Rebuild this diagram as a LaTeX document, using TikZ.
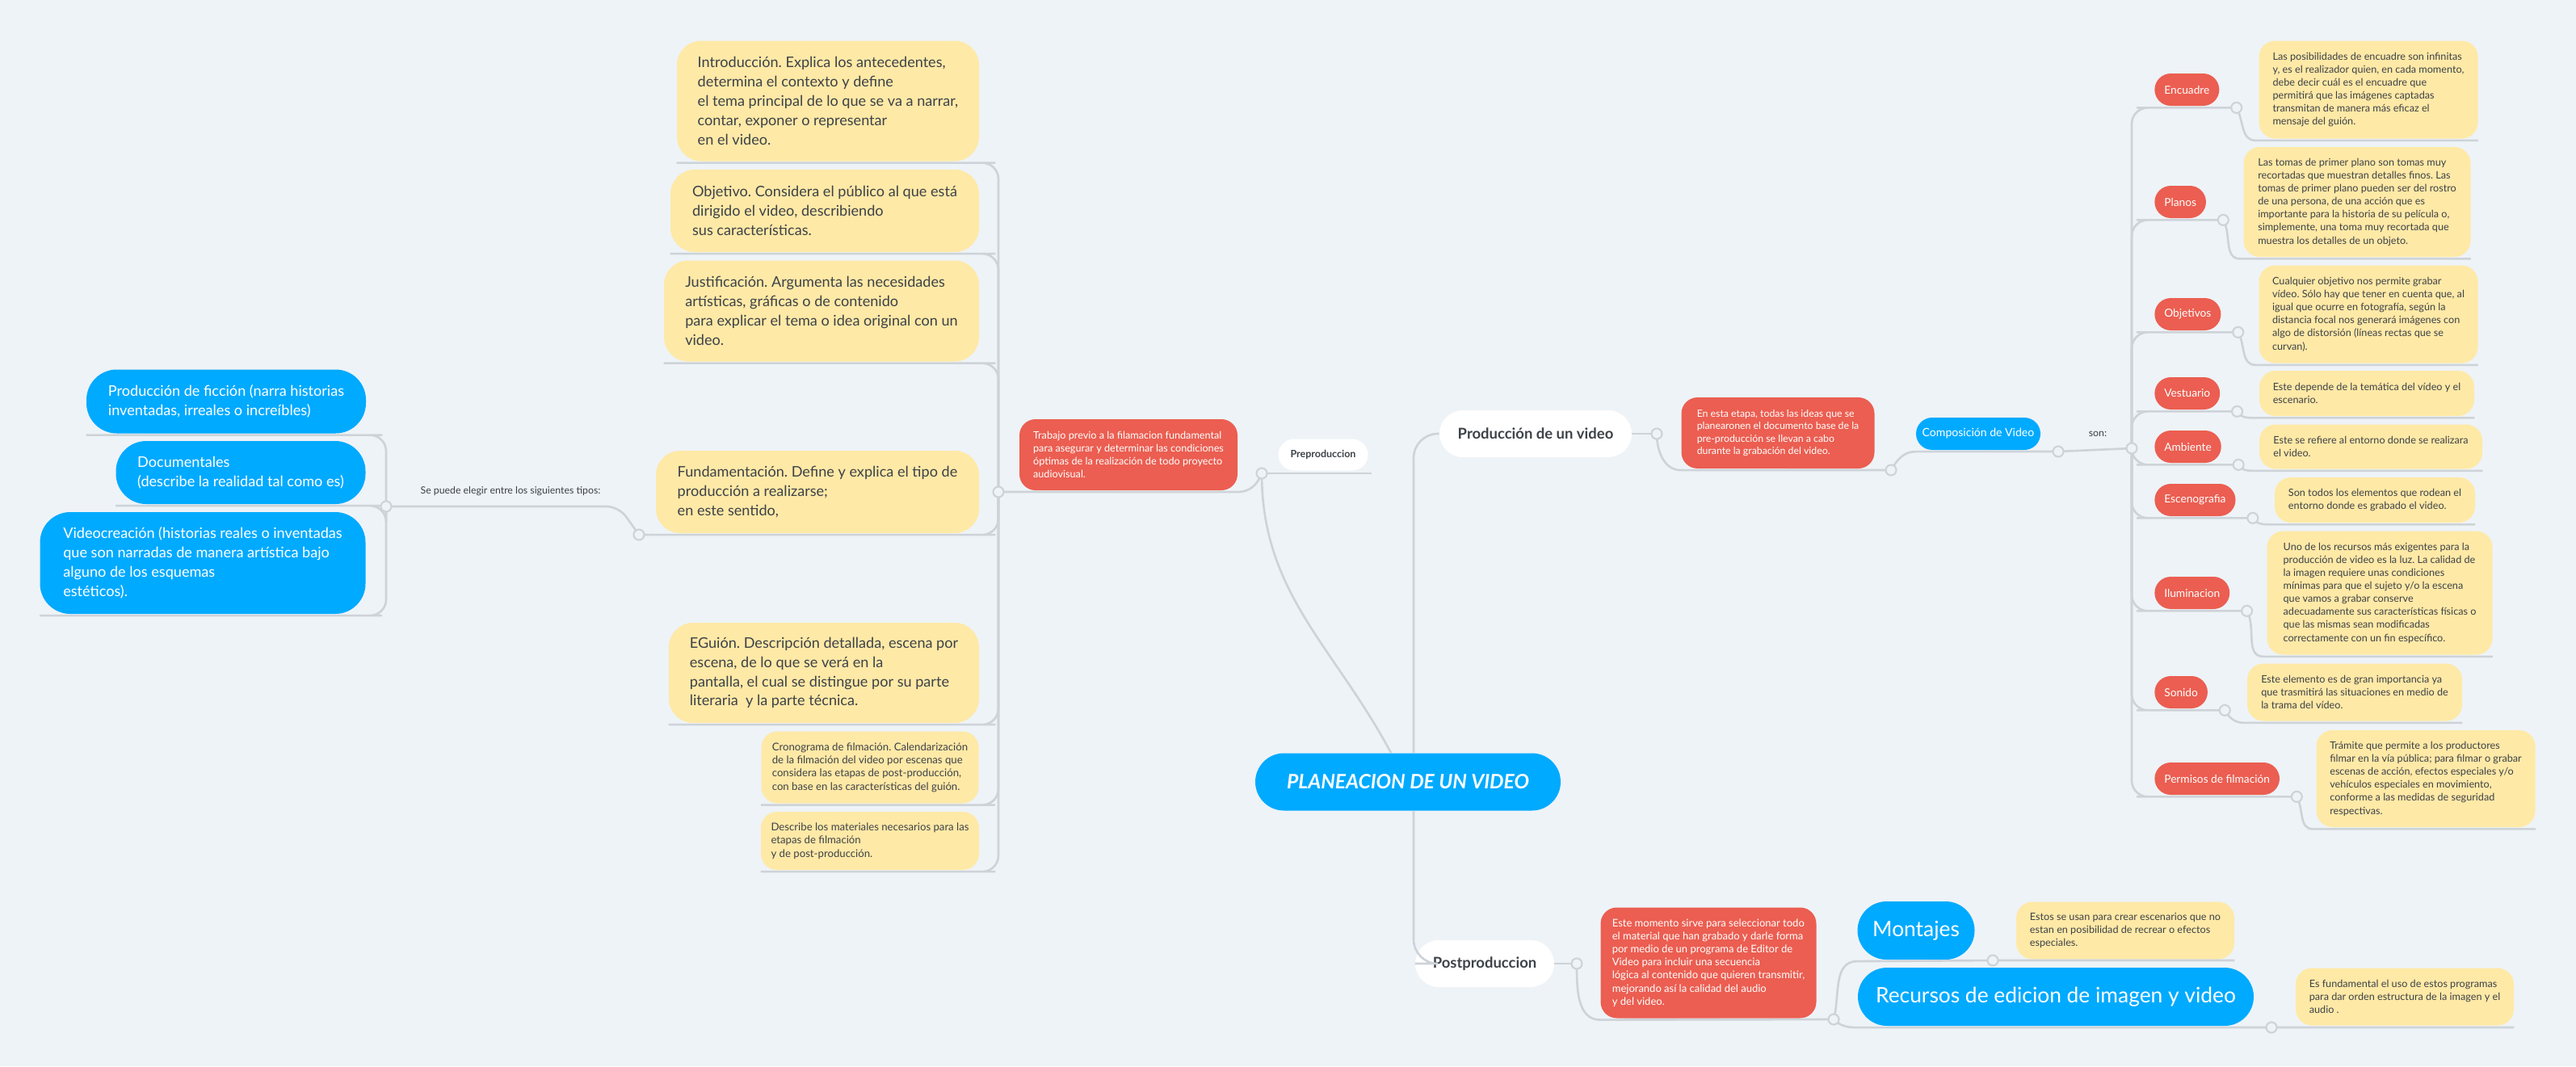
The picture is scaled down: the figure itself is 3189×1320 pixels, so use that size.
\documentclass[tikz,border=0pt]{standalone}
\usepackage{fontspec}
\setmainfont{Lato}
\usetikzlibrary{calc, positioning}
\frenchspacing

\definecolor{bgc}{HTML}{EEF3F7}
\definecolor{yelc}{HTML}{FFE9A6}
\definecolor{redc}{HTML}{EB5E51}
\definecolor{bluec}{HTML}{00AAFF}
\definecolor{linkc}{HTML}{CDD3D8}
\definecolor{txtc}{HTML}{3D4249}

\begin{document}
\begin{tikzpicture}[x=0.02cm, y=0.02cm]

    \tikzstyle{yel} = [rectangle, fill=yelc, text=txtc, rounded corners=0.6cm, align=left, inner sep=0pt, font=\fontsize{10.3}{13.6}\selectfont]
    \tikzstyle{bluebox} = [yel, fill=bluec, text=white, rounded corners=0.75cm]
    \tikzstyle{note} = [rectangle, fill=yelc, text=txtc, rounded corners=0.4cm, align=left, inner sep=0pt, font=\fontsize{7.2}{9.2}\selectfont]
    \tikzstyle{rednote} = [note, fill=redc, text=white]
    \tikzstyle{tag} = [rectangle, fill=redc, text=white, rounded corners=0.4cm, inner xsep=0.24cm, inner ysep=0pt, minimum height=0.8cm, anchor=west, font=\fontsize{7.8}{9}\selectfont]
    \tikzstyle{pill} = [rectangle, fill=white, text=txtc, inner sep=0pt]
    \tikzstyle{bluepill} = [rectangle, fill=bluec, text=white, inner sep=0pt]
    \tikzstyle{lbl} = [text=txtc, inner sep=0pt, font=\fontsize{7}{8}\selectfont]
    \tikzstyle{line} = [draw=linkc, line width=1.5pt]
    \tikzstyle{knot} = [circle, draw=linkc, fill=bgc, line width=1.2pt, minimum size=0.26cm, inner sep=0pt]
    \tikzset{sz/.style 2 args={minimum width=#1*0.02cm, minimum height=#2*0.02cm}}

    \fill [bgc] (0,0) rectangle (3189,-1320);
    \useasboundingbox (0,0) rectangle (3189,-1320);

    % centre
    \node [bluepill, sz={378}{71}, rounded corners=0.71cm, font=\fontsize{14}{16}\selectfont\bfseries\itshape] (central) at (1743,-968) {PLANEACION DE UN VIDEO};

    % preproduccion
    \node [pill, sz={111}{39}, rounded corners=0.39cm, font=\fontsize{7.1}{8}\selectfont\bfseries] (p_pre) at (1638,-563) {Preproduccion};
    \node [rednote, sz={270}{88}] (r_pre) at (1397,-563) {Trabajo previo a la filamacion fundamental\\para asegurar y determinar las condiciones\\óptimas de la realización de todo proyecto\\audiovisual.};

    \node [yel, sz={374}{149}] (y_intro) at (1025,-125) {Introducción. Explica los antecedentes,\\determina el contexto y define\\el tema principal de lo que se va a narrar,\\contar, exponer o representar\\en el video.};
    \node [yel, sz={382}{102}] (y_objetivo) at (1021,-261) {Objetivo. Considera el público al que está\\dirigido el video, describiendo\\sus características.};
    \node [yel, sz={390}{125}] (y_justif) at (1017,-385) {Justificación. Argumenta las necesidades\\artísticas, gráficas o de contenido\\para explicar el tema o idea original con un\\video.};
    \node [yel, sz={400}{102}] (y_fundam) at (1012,-609) {Fundamentación. Define y explica el tipo de\\producción a realizarse;\\en este sentido,};
    \node [yel, sz={384}{124}] (y_guion) at (1020,-833) {EGuión. Descripción detallada, escena por\\escena, de lo que se verá en la\\pantalla, el cual se distingue por su parte\\literaria \ y la parte técnica.};
    \node [note, sz={269}{89}, font=\fontsize{7.5}{9.3}\selectfont] (y_crono) at (1077,-950) {Cronograma de filmación. Calendarización\\de la filmación del video por escenas que\\considera las etapas de post-producción,\\con base en las características del guión.};
    \node [note, sz={270}{72}, font=\fontsize{7.5}{9.3}\selectfont] (y_mater) at (1077,-1041) {Describe los materiales necesarios para las\\etapas de filmación\\y de post-producción.};

    \node [lbl] (tipos) at (632,-608) {Se puede elegir entre los siguientes tipos:};
    \node [bluebox, sz={346}{79}] (b_ficcion) at (280,-497) {Producción de ficción (narra historias\\inventadas, irreales o increíbles)};
    \node [bluebox, sz={309}{78}] (b_docu) at (298,-585) {Documentales\\(describe la realidad tal como es)};
    \node [bluebox, sz={403}{126}] (b_video) at (251,-697) {Videocreación (historias reales o inventadas\\que son narradas de manera artística bajo\\alguno de los esquemas\\estéticos).};

    % produccion
    \node [pill, sz={238}{58}, rounded corners=0.58cm, font=\fontsize{10.5}{12}\selectfont\bfseries] (p_prod) at (1901,-537) {Producción de un video};
    \node [rednote, sz={239}{88}, font=\fontsize{7}{8.7}\selectfont] (r_prod) at (2201,-536) {En esta etapa, todas las ideas que se\\planearonen el documento base de la\\pre-producción se llevan a cabo\\durante la grabación del video.};
    \node [bluepill, sz={154}{40}, rounded corners=0.4cm, font=\fontsize{8}{9}\selectfont] (p_compo) at (2449,-537) {Composición de Video};
    \node [lbl] (son) at (2597,-537) {son:};

    \node [tag] (t_encuadre) at (2667,-111) {Encuadre};
    \node [tag] (t_planos) at (2667,-250) {Planos};
    \node [tag] (t_objetivos) at (2667,-389) {Objetivos};
    \node [tag] (t_vestuario) at (2667,-487) {Vestuario};
    \node [tag] (t_ambiente) at (2667,-553) {Ambiente};
    \node [tag] (t_esceno) at (2667,-619) {Escenografia};
    \node [tag] (t_ilum) at (2667,-734) {Iluminacion};
    \node [tag] (t_sonido) at (2667,-857) {Sonido};
    \node [tag] (t_permisos) at (2667,-964) {Permisos de filmación};

    \node [note, sz={271}{121}] (n_encuadre) at (2932,-111) {Las posibilidades de encuadre son infinitas\\y, es el realizador quien, en cada momento,\\debe decir cuál es el encuadre que\\permitirá que las imágenes captadas\\transmitan de manera más eficaz el\\mensaje del guión.};
    \node [note, sz={281}{136}] (n_planos) at (2918,-250) {Las tomas de primer plano son tomas muy\\recortadas que muestran detalles finos. Las\\tomas de primer plano pueden ser del rostro\\de una persona, de una acción que es\\importante para la historia de su película o,\\simplemente, una toma muy recortada que\\muestra los detalles de un objeto.};
    \node [note, sz={271}{121}] (n_objetivos) at (2932,-389) {Cualquier objetivo nos permite grabar\\vídeo. Sólo hay que tener en cuenta que, al\\igual que ocurre en fotografía, según la\\distancia focal nos generará imágenes con\\algo de distorsión (líneas rectas que se\\curvan).};
    \node [note, sz={266}{56}] (n_vestuario) at (2930,-487) {Este depende de la temática del vídeo y el\\escenario.};
    \node [note, sz={276}{55}] (n_ambiente) at (2935,-553) {Este se refiere al entorno donde se realizara\\el video.};
    \node [note, sz={248}{56}] (n_esceno) at (2940,-619) {Son todos los elementos que rodean el\\entorno donde es grabado el video.};
    \node [note, sz={279}{153}] (n_ilum) at (2946,-734) {Uno de los recursos más exigentes para la\\producción de video es la luz. La calidad de\\la imagen requiere unas condiciones\\mínimas para que el sujeto y/o la escena\\que vamos a grabar conserve\\adecuadamente sus características físicas o\\que las mismas sean modificadas\\correctamente con un fin específico.};
    \node [note, sz={266}{71}] (n_sonido) at (2915,-857) {Este elemento es de gran importancia ya\\que trasmitirá las situaciones en medio de\\la trama del vídeo.};
    \node [note, sz={271}{120}] (n_permisos) at (3003,-964) {Trámite que permite a los productores\\filmar en la vía pública; para filmar o grabar\\escenas de acción, efectos especiales y/o\\vehículos especiales en movimiento,\\conforme a las medidas de seguridad\\respectivas.};

    % postproduccion
    \node [pill, sz={172}{58}, rounded corners=0.58cm, font=\fontsize{10.5}{12}\selectfont\bfseries] (p_post) at (1838,-1193) {Postproduccion};
    \node [rednote, sz={267}{137}, font=\fontsize{7.4}{9.2}\selectfont] (r_post) at (2115,-1192) {Este momento sirve para seleccionar todo\\el material que han grabado y darle forma\\por medio de un programa de Editor de\\Video para incluir una secuencia\\lógica al contenido que quieren transmitir,\\mejorando así la calidad del audio\\y del video.};
    \node [bluepill, sz={145}{72}, rounded corners=0.72cm, font=\fontsize{15}{17}\selectfont] (p_montajes) at (2372,-1152) {Montajes};
    \node [bluepill, sz={490}{72}, rounded corners=0.72cm, font=\fontsize{15}{17}\selectfont] (p_recursos) at (2545,-1234) {Recursos de edicion de imagen y video};
    \node [note, sz={270}{71}] (n_montajes) at (2631,-1152) {Estos se usan para crear escenarios que no\\estan en posibilidad de recrear o efectos\\especiales.};
    \node [note, sz={270}{71}] (n_recursos) at (2977,-1234) {Es fundamental el uso de estos programas\\para dar orden estructura de la imagen y el\\audio .};

    % junctions
    \coordinate (k_pre) at (1562,-586);
    \coordinate (k_rpre) at (1236,-609);
    \coordinate (k_fund) at (791,-662);
    \coordinate (k_tipos) at (478,-627);
    \coordinate (k_prod) at (2051,-537);
    \coordinate (k_rprod) at (2341,-582);
    \coordinate (k_compo) at (2548,-559);
    \coordinate (k_son) at (2639,-555);
    \coordinate (k_post) at (1952,-1193);
    \coordinate (k_rpost) at (2270,-1262);
    \coordinate (k_mont) at (2467,-1189);
    \coordinate (k_recur) at (2812,-1272);

    % connectors, left side
    \path [line] ($(central.north)+(-21,0)$) to[out=118,in=-90] (k_pre);
    \path [line] (k_pre) -- ($(k_pre -| p_pre.east)+(4,0)$);
    \path [line] (k_pre) to[out=-110,in=0] ([yshift=-1pt]r_pre.south east) -- (k_rpre);
    \foreach \n in {y_intro, y_objetivo, y_justif, y_fundam, y_guion, y_crono, y_mater}
        \path [line, rounded corners=0.4cm] (k_rpre) |- ([yshift=-1pt]\n.south east) -- ([yshift=-1pt]\n.south west);
    \path [line] ([yshift=-1pt]y_fundam.south west) -- (k_fund);
    \path [line, rounded corners=0.3cm] (k_fund) -- ++(-25,35) -- (k_tipos);
    \foreach \n in {b_ficcion, b_docu, b_video}
        \path [line, rounded corners=0.4cm] (k_tipos) |- ([yshift=-1pt]\n.south east) -- ([yshift=-1pt]\n.south west);

    % connectors, right side
    \path [line, rounded corners=0.6cm] ($(central.north)+(7,0)$) |- (p_prod.west);
    \path [line] (p_prod.east) -- (k_prod);
    \path [line] (k_prod) to[out=-90,in=180] ([yshift=-1pt]r_prod.south west) -- (k_rprod);
    \path [line] (k_rprod) to[out=60,in=180] ([yshift=-1pt]p_compo.south west) -- (k_compo);
    \path [line] (k_compo) -- (k_son);
    \foreach \t in {encuadre, planos, objetivos, vestuario, ambiente, esceno, ilum, sonido, permisos} {
        \coordinate (k_\t) at ($(t_\t.south east)+(21,-2)$);
        \path [line, rounded corners=0.4cm] (k_son) |- ($(t_\t.south west)+(-2,-2)$) -- (k_\t);
        \path [line] (k_\t) to[out=-60,in=180] ($(n_\t.south west)+(-4,-2)$) -- ($(n_\t.south east)+(0,-2)$);
    }

    \path [line, rounded corners=0.6cm] ($(central.south)+(7,0)$) |- (p_post.west);
    \path [line] (p_post.east) -- (k_post);
    \path [line] (k_post) to[out=-90,in=180] ([yshift=-1pt]r_post.south west) -- (k_rpost);
    \path [line] (k_rpost) to[out=75,in=180] ([yshift=-1pt]p_montajes.south west) -- (k_mont) -- ($(k_mont -| n_montajes.east)$);
    \path [line] (k_rpost) to[out=-45,in=180] ([yshift=-1pt]p_recursos.south west) -- (k_recur) -- ($(k_recur -| n_recursos.east)$);

    \foreach \k in {k_pre, k_rpre, k_fund, k_tipos, k_prod, k_rprod, k_compo, k_son, k_encuadre, k_planos, k_objetivos, k_vestuario, k_ambiente, k_esceno, k_ilum, k_sonido, k_permisos, k_post, k_rpost, k_mont, k_recur}
        \node [knot] at (\k) {};
\end{tikzpicture}
\end{document}
